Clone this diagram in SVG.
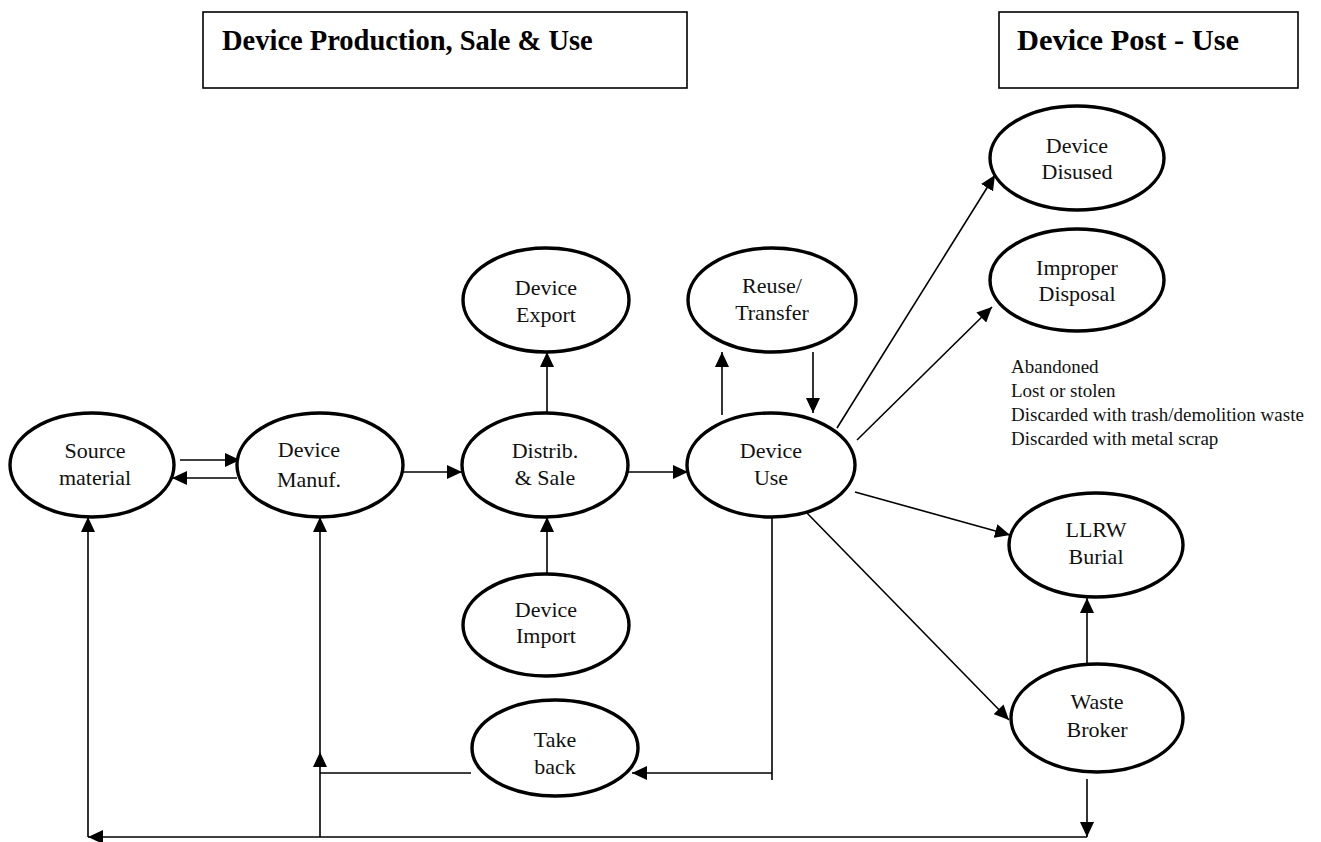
<svg xmlns="http://www.w3.org/2000/svg" width="1321" height="842" viewBox="0 0 1321 842">
<style>
.node ellipse{fill:#fff;stroke:#000;stroke-width:3.4}
.node text{font-family:"Liberation Serif","Times New Roman",serif;font-size:22px;text-anchor:middle;fill:#111}
.title rect{fill:#fff;stroke:#000;stroke-width:1.6}
.title text{font-family:"Liberation Serif","Times New Roman",serif;font-size:28.5px;font-weight:bold;fill:#000}
.conn line{stroke:#000;stroke-width:1.6;fill:none}
.note{font-family:"Liberation Serif","Times New Roman",serif;font-size:19px;fill:#111}
</style>
<defs>
<marker id="ah" markerUnits="userSpaceOnUse" markerWidth="16" markerHeight="14" refX="15" refY="7" orient="auto">
<path d="M0,0 L15,7 L0,14 Z" fill="#000"/>
</marker>
</defs>
<rect width="1321" height="842" fill="#fff"/>

<g id="title-production" class="title">
<rect x="203" y="12" width="484" height="76"/>
<text x="222" y="50">Device Production, Sale &amp; Use</text>
</g>
<g id="title-postuse" class="title">
<rect x="999" y="12" width="299" height="76"/>
<text x="1017" y="50" textLength="222" lengthAdjust="spacingAndGlyphs">Device Post - Use</text>
</g>

<g id="connectors" class="conn">
<line x1="180" y1="460" x2="240" y2="460" marker-end="url(#ah)"/>
<line x1="237" y1="478" x2="172" y2="478" marker-end="url(#ah)"/>
<line x1="403" y1="472" x2="462" y2="472" marker-end="url(#ah)"/>
<line x1="628" y1="472" x2="688" y2="472" marker-end="url(#ah)"/>
<line x1="547" y1="412" x2="547" y2="352" marker-end="url(#ah)"/>
<line x1="547" y1="574" x2="547" y2="517" marker-end="url(#ah)"/>
<line x1="722" y1="415" x2="722" y2="352" marker-end="url(#ah)"/>
<line x1="813" y1="352" x2="813" y2="413" marker-end="url(#ah)"/>
<line x1="837" y1="428" x2="995" y2="175" marker-end="url(#ah)"/>
<line x1="857" y1="440" x2="992" y2="307" marker-end="url(#ah)"/>
<line x1="855" y1="492" x2="1010" y2="535" marker-end="url(#ah)"/>
<line x1="806" y1="512" x2="1009" y2="720" marker-end="url(#ah)"/>
<line x1="1087" y1="664" x2="1087" y2="598" marker-end="url(#ah)"/>
<line x1="1087" y1="779" x2="1087" y2="837" marker-end="url(#ah)"/>
<line x1="772" y1="517" x2="772" y2="780"/>
<line x1="772" y1="773" x2="632" y2="773" marker-end="url(#ah)"/>
<line x1="471" y1="773" x2="320" y2="773"/>
<line x1="1087" y1="837" x2="88" y2="837" marker-end="url(#ah)"/>
<line x1="88" y1="837" x2="88" y2="517" marker-end="url(#ah)"/>
<line x1="320" y1="837" x2="320" y2="752" marker-end="url(#ah)"/>
<line x1="320" y1="752" x2="320" y2="517" marker-end="url(#ah)"/>
</g>

<g id="source-material" class="node">
<ellipse cx="92" cy="465" rx="82" ry="52"/>
<text x="95" y="458">Source</text><text x="95" y="485">material</text>
</g>
<g id="device-manuf" class="node">
<ellipse cx="320" cy="465" rx="83" ry="52"/>
<text x="309" y="457">Device</text><text x="309" y="487">Manuf.</text>
</g>
<g id="distrib-sale" class="node">
<ellipse cx="545" cy="465" rx="83" ry="52"/>
<text x="545" y="458">Distrib.</text><text x="545" y="485">&amp; Sale</text>
</g>
<g id="device-use" class="node">
<ellipse cx="771" cy="465" rx="84" ry="52"/>
<text x="771" y="458">Device</text><text x="771" y="485">Use</text>
</g>
<g id="device-export" class="node">
<ellipse cx="546" cy="300" rx="83" ry="52"/>
<text x="546" y="295">Device</text><text x="546" y="322">Export</text>
</g>
<g id="reuse-transfer" class="node">
<ellipse cx="772" cy="300" rx="84" ry="52"/>
<text x="772" y="293">Reuse/</text><text x="772" y="320">Transfer</text>
</g>
<g id="device-import" class="node">
<ellipse cx="546" cy="625" rx="83" ry="51"/>
<text x="546" y="617">Device</text><text x="546" y="643">Import</text>
</g>
<g id="take-back" class="node">
<ellipse cx="555" cy="748" rx="83" ry="48"/>
<text x="555" y="747">Take</text><text x="555" y="774">back</text>
</g>
<g id="device-disused" class="node">
<ellipse cx="1077" cy="158" rx="87" ry="52"/>
<text x="1077" y="153">Device</text><text x="1077" y="179">Disused</text>
</g>
<g id="improper-disposal" class="node">
<ellipse cx="1077" cy="280" rx="87" ry="51"/>
<text x="1077" y="275">Improper</text><text x="1077" y="301">Disposal</text>
</g>
<g id="llrw-burial" class="node">
<ellipse cx="1096" cy="545" rx="87" ry="52"/>
<text x="1096" y="537">LLRW</text><text x="1096" y="564">Burial</text>
</g>
<g id="waste-broker" class="node">
<ellipse cx="1097" cy="718" rx="86" ry="54"/>
<text x="1097" y="709">Waste</text><text x="1097" y="737">Broker</text>
</g>

<g id="improper-notes">
<text class="note" x="1011" y="373">Abandoned</text>
<text class="note" x="1011" y="397">Lost or stolen</text>
<text class="note" x="1011" y="421">Discarded with trash/demolition waste</text>
<text class="note" x="1011" y="445">Discarded with metal scrap</text>
</g>
</svg>
